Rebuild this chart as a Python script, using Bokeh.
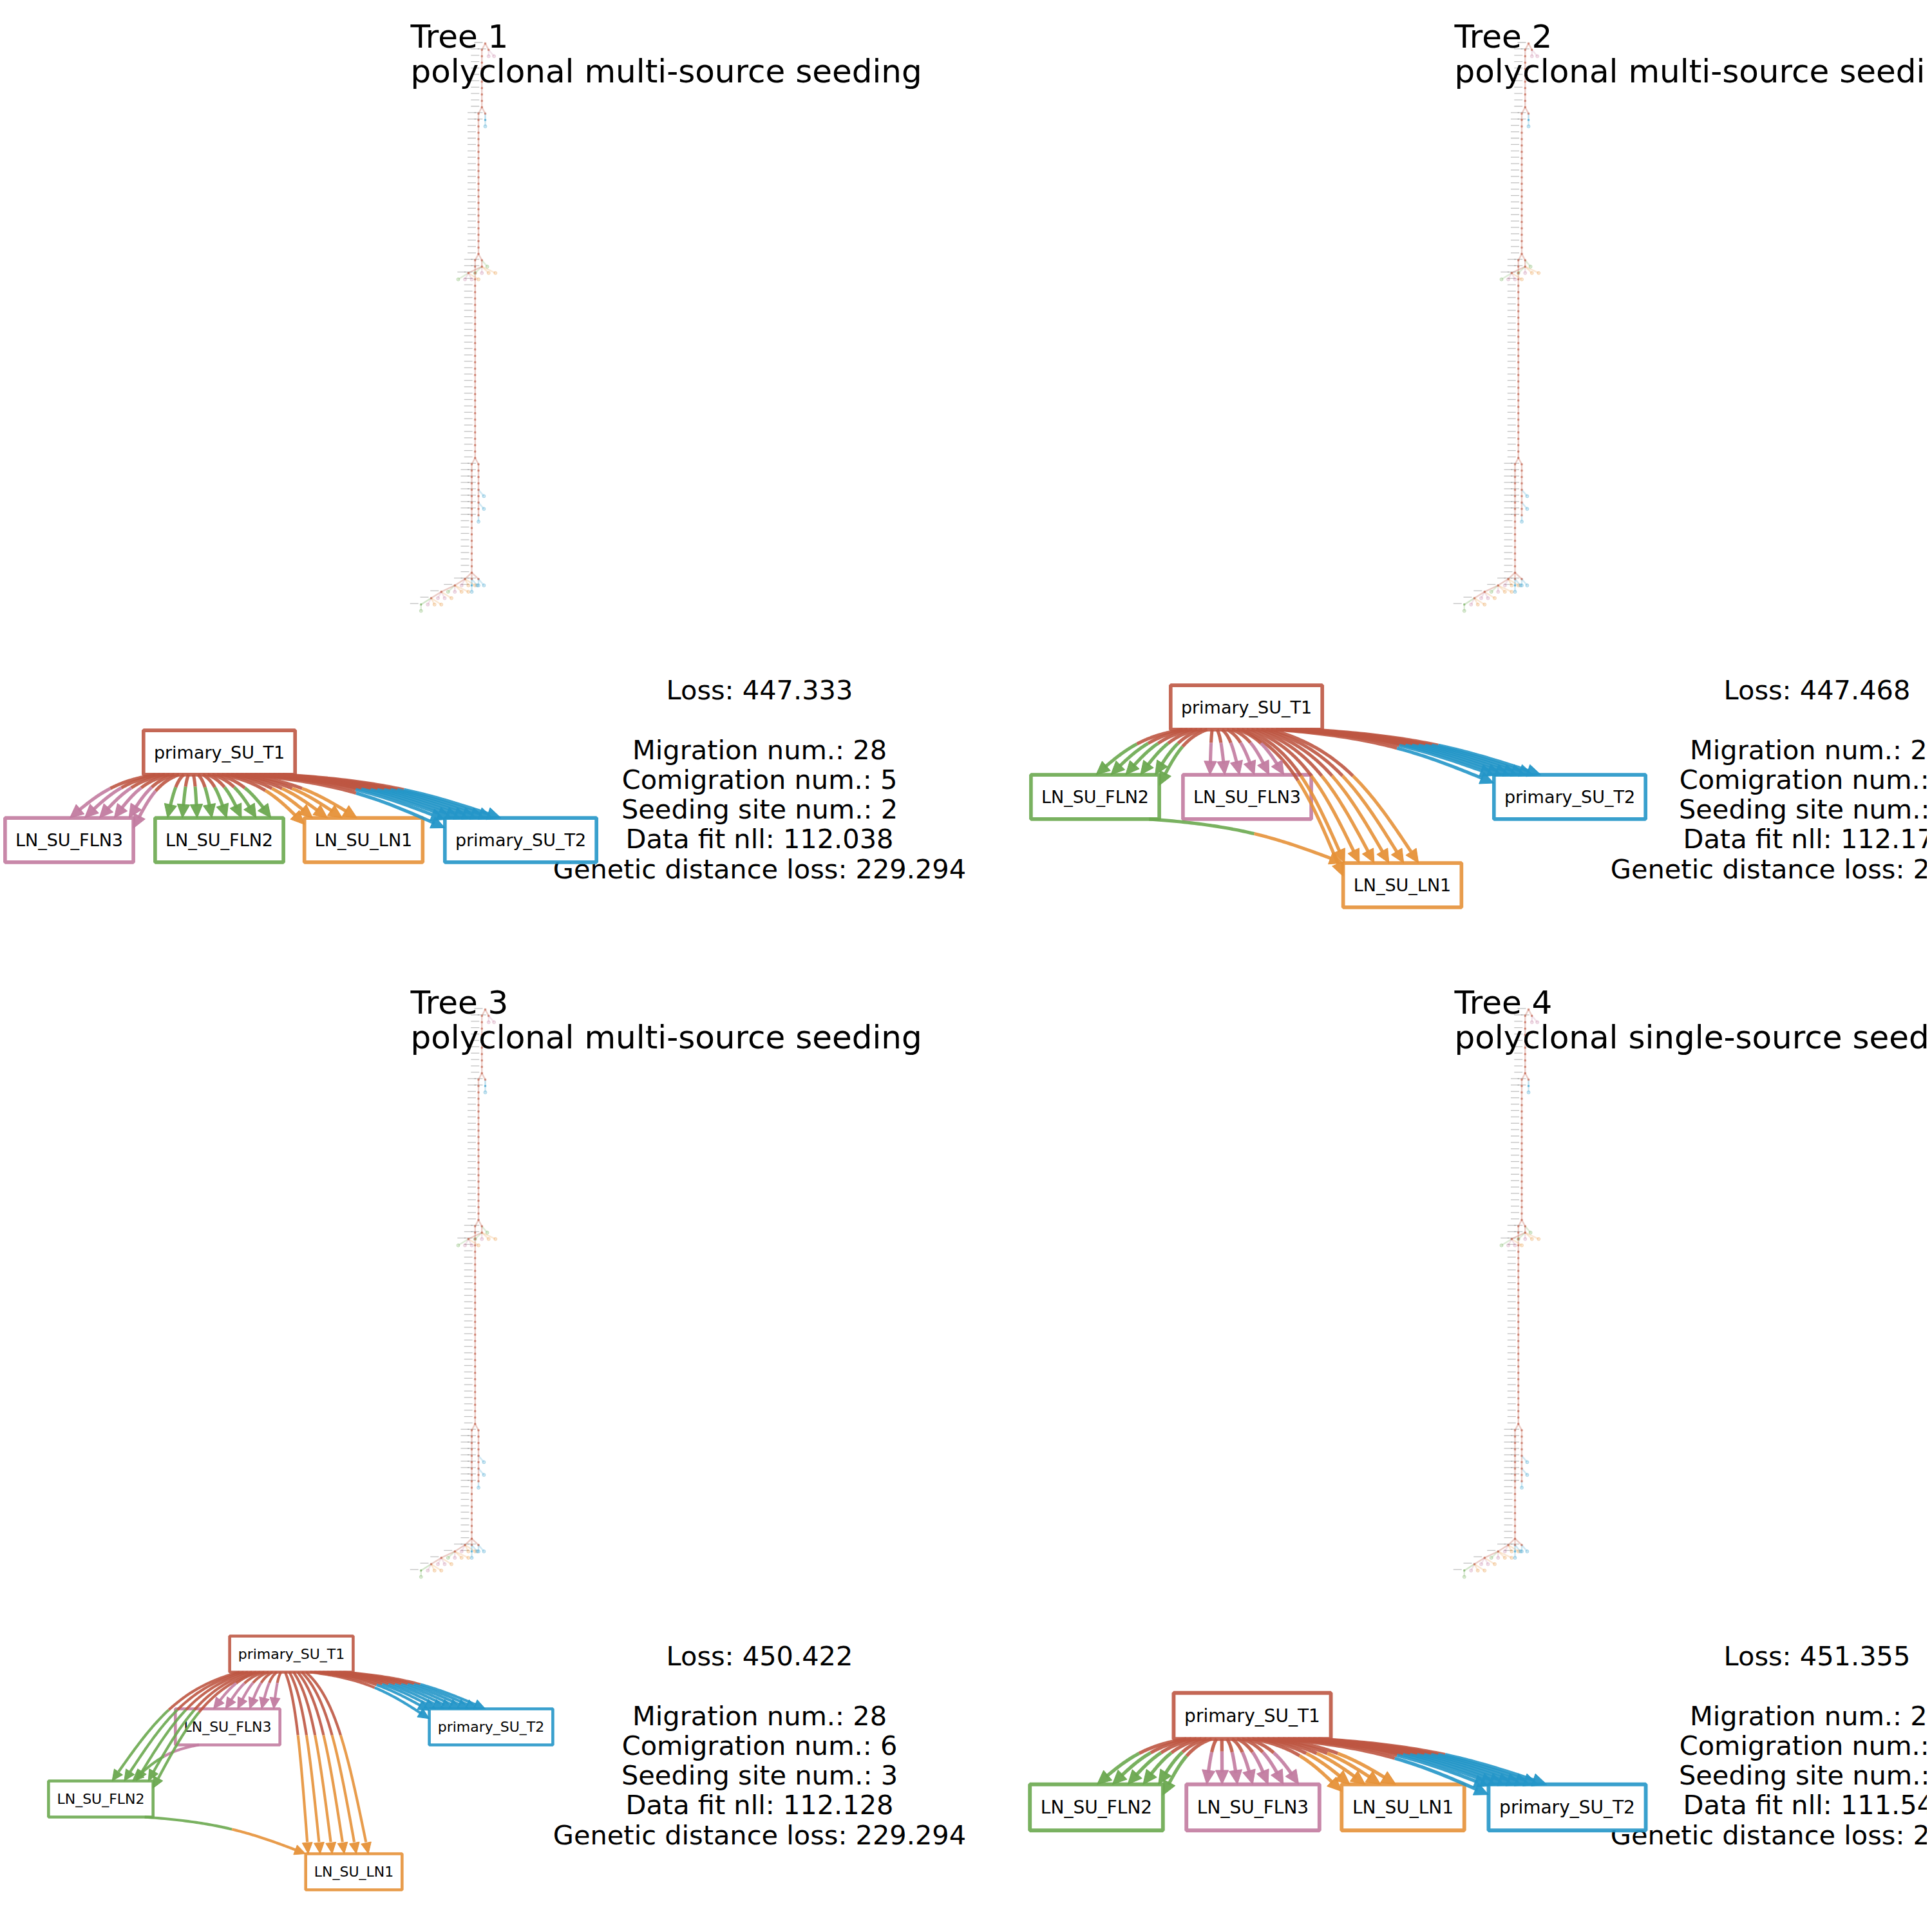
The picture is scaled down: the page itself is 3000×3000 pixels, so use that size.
import numpy as np
from bokeh.core.properties import value
from bokeh.embed import file_html
from bokeh.models import ColumnDataSource, Range1d
from bokeh.plotting import figure
from bokeh.resources import INLINE

# anatomical sites
site_ids = ["T1", "T2", "FLN2", "FLN3", "LN1"]
site_labels = ["primary_SU_T1", "primary_SU_T2", "LN_SU_FLN2", "LN_SU_FLN3", "LN_SU_LN1"]
site_colors = ["#be5742", "#2496c8", "#6aa84f", "#c27ba0", "#e69138"]
COLOR = dict(zip(site_ids, site_colors))
LABEL = dict(zip(site_ids, site_labels))

# one entry per solution
tree_names = ["Tree 1", "Tree 2", "Tree 3", "Tree 4"]
seeding_patterns = ["polyclonal multi-source seeding", "polyclonal multi-source seeding",
                    "polyclonal multi-source seeding", "polyclonal single-source seeding"]
loss = ["447.333", "447.468", "450.422", "451.355"]
migration_num = [28, 28, 28, 27]
comigration_num = [5, 5, 6, 5]
seeding_site_num = [2, 2, 3, 1]
data_fit_nll = ["112.038", "112.175", "112.128", "111.546"]
genetic_distance_loss = ["229.294", "229.294", "229.294", "229.294"]

# migration graphs: node order, graphviz placement, label size, (source, target, count)
graph_nodes = [["T1", "FLN3", "FLN2", "LN1", "T2"],
               ["T1", "FLN2", "FLN3", "T2", "LN1"],
               ["T1", "FLN3", "T2", "FLN2", "LN1"],
               ["T1", "FLN2", "FLN3", "LN1", "T2"]]
graph_x = [[340, 107, 340, 564, 808],
           [1935, 1700, 1936, 2437, 2177],
           [452, 353, 762, 156, 549],
           [1944, 1702, 1945, 2178, 2433]]
graph_y = [[1168, 1304, 1304, 1304, 1304],
           [1098, 1237, 1237, 1237, 1374],
           [2568, 2681, 2681, 2793, 2906],
           [2664, 2806, 2806, 2806, 2806]]
graph_font = [27, 27, 22, 28]
graph_edges = [
    [("T1", "FLN3", 6), ("T1", "FLN2", 8), ("T1", "LN1", 5), ("T1", "T2", 9)],
    [("T1", "FLN2", 6), ("T1", "FLN3", 6), ("T1", "T2", 8), ("T1", "LN1", 7), ("FLN2", "LN1", 1)],
    [("T1", "FLN2", 5), ("FLN3", "FLN2", 1), ("T1", "FLN3", 6), ("T1", "T2", 9),
     ("T1", "LN1", 6), ("FLN2", "LN1", 1)],
    [("T1", "FLN2", 6), ("T1", "FLN3", 7), ("T1", "LN1", 5), ("T1", "T2", 9)],
]

# clone tree (same topology in every solution); '.' = primary clone, letter = extra leaf
LEAF = {"b": "T2", "g": "FLN2", "p": "FLN3", "o": "LN1"}


def trunk(pattern, *tail):
    node = None
    for i, ch in enumerate(reversed(pattern)):
        kids = list(tail) if i == 0 else [node]
        if ch != ".":
            kids.append([LEAF[ch]])
        node = ["T1", *kids]
    return node


def step(nxt, leaves):
    return ["T1", nxt, *[[LEAF[c]] for c in leaves]]


stair = ["FLN2", ["FLN2"]]
for lv in ["poo", "ppo", "gpoo", "poo"]:
    stair = step(stair, lv)
fork_low = trunk("..", stair, ["T1", ["T2", ["T2"]], ["T2"]], ["T1", ["T2"], ["T2"]])
left_arm = trunk("." * 16, fork_low)
right_arm = trunk("....b.b.b")
mid = trunk("." * 30, left_arm, right_arm)
side = ["T1", ["T1", ["T1", ["FLN2"], ["FLN3"], ["FLN3"], ["LN1"]],
               ["FLN2"], ["FLN3"], ["LN1"], ["LN1"]], ["FLN2"]]
upper = trunk("." * 23, trunk("..", mid), side)
top = trunk("." * 10, upper, ["T1", ["T2", ["T2"]]])
clone_tree = ["T1", top, ["T1", ["FLN3"], ["FLN3"]]]

# DejaVu Sans advance widths (em) for the box labels
char_em = {"p": .635, "r": .411, "i": .278, "m": .974, "a": .613, "y": .592, "_": .5,
           "S": .635, "U": .732, "T": .611, "L": .557, "N": .748, "F": .575,
           "1": .636, "2": .636, "3": .636}

FONT = value("DejaVu Sans")
COL_TITLE_X = [637, 2258]
COL_TEXT_X = [1179, 2821]
COL_TREE_X = [753, 2373]
ROW_DY = 1500
UNIT = 10.5
LEVEL = 9.9
BASE_FIX = 0.35  # bokeh draws alphabetic text this many em lower
SIDE = 2992


def layout(node, x, depth, nodes, links):
    kids = node[1:]
    nodes.append((x, depth, node[0], len(kids) == 0))
    n = len(kids)
    for i, kid in enumerate(kids):
        if n == 2 and len(kids[1]) == 1:
            off = 0.0 if i == 0 else UNIT * 0.8
        else:
            off = (i - (n - 1) / 2) * UNIT
        links.append((x, depth, x + off, depth + 1, kid[0], len(kid) == 1))
        layout(kid, x + off, depth + 1, nodes, links)


t_nodes, t_links = [], []
layout(clone_tree, 0.0, 0, t_nodes, t_links)

p = figure(width=SIDE, height=SIDE, x_range=Range1d(0, SIDE), y_range=Range1d(SIDE, 0),
           output_backend="svg", toolbar_location=None, min_border=0,
           x_axis_location=None, y_axis_location=None)
p.grid.visible = False
p.outline_line_color = None

# ---- clone trees
lk = dict(x0=[], y0=[], x1=[], y1=[], c=[], a=[])
inner = dict(x=[], y=[], c=[])
leaf = dict(x=[], y=[], c=[])
dash = dict(x0=[], y0=[], x1=[], y1=[])
for k in range(4):
    ox, oy = COL_TREE_X[k % 2], 67 + ROW_DY * (k // 2)
    for x0, d0, x1, d1, s, is_leaf in t_links:
        lk["x0"].append(ox + x0); lk["y0"].append(oy + d0 * LEVEL)
        lk["x1"].append(ox + x1); lk["y1"].append(oy + d1 * LEVEL)
        lk["c"].append(COLOR[s]); lk["a"].append(0.22 if is_leaf else 0.3)
    for x, d, s, is_leaf in t_nodes:
        tgt = leaf if is_leaf else inner
        tgt["x"].append(ox + x); tgt["y"].append(oy + d * LEVEL); tgt["c"].append(COLOR[s])
        if not is_leaf:
            dash["x0"].append(ox + x - 17); dash["x1"].append(ox + x - 4)
            dash["y0"].append(oy + d * LEVEL - 1.5); dash["y1"].append(oy + d * LEVEL - 1.5)

p.segment("x0", "y0", "x1", "y1", source=ColumnDataSource(lk), line_color="c",
          line_alpha="a", line_width=2.4)
p.segment("x0", "y0", "x1", "y1", source=ColumnDataSource(dash), line_color="#666666",
          line_alpha=0.4, line_width=1.3)
p.scatter("x", "y", source=ColumnDataSource(leaf), marker="circle", size=5,
          fill_color="c", fill_alpha=0.22, line_color="c", line_alpha=0.3)
p.scatter("x", "y", source=ColumnDataSource(inner), marker="square", size=2.4,
          fill_color="c", line_color="c", fill_alpha=0.55, line_alpha=0.4)

# ---- titles and score text
title = dict(x=[], y=[], t=[])
info = dict(x=[], y=[], t=[])
for k in range(4):
    col, row = k % 2, k // 2
    for j, line in enumerate([tree_names[k], seeding_patterns[k]]):
        title["x"].append(COL_TITLE_X[col])
        title["y"].append(74 + 54 * j + ROW_DY * row - BASE_FIX * 50)
        title["t"].append(line)
    lines = [f"Loss: {loss[k]}", "",
             f"Migration num.: {migration_num[k]}",
             f"Comigration num.: {comigration_num[k]}",
             f"Seeding site num.: {seeding_site_num[k]}",
             f"Data fit nll: {data_fit_nll[k]}",
             f"Genetic distance loss: {genetic_distance_loss[k]}"]
    for j, line in enumerate(lines):
        if line:
            info["x"].append(COL_TEXT_X[col])
            info["y"].append(1086 + 46.2 * j + ROW_DY * row - BASE_FIX * 41.5)
            info["t"].append(line)

p.text("x", "y", text="t", source=ColumnDataSource(title), text_font=FONT,
       text_font_size="50px", text_align="left", text_baseline="alphabetic", text_color="black")
p.text("x", "y", text="t", source=ColumnDataSource(info), text_font=FONT,
       text_font_size="41.5px", text_align="center", text_baseline="alphabetic", text_color="black")


# ---- migration graphs
def bez(p0, p1, p2, p3, ts):
    ts = ts[:, None]
    return ((1 - ts) ** 3 * p0 + 3 * (1 - ts) ** 2 * ts * p1
            + 3 * (1 - ts) * ts ** 2 * p2 + ts ** 3 * p3)


boxes = dict(x=[], y=[], w=[], h=[], c=[], lw=[])
blabels = dict(x=[], y=[], t=[], fs=[])
e1 = dict(xs=[], ys=[], c=[], lw=[])
e2 = dict(xs=[], ys=[], c=[], lw=[])
heads = dict(xs=[], ys=[], c=[])

for k in range(4):
    fs = graph_font[k]
    pos = {s: (graph_x[k][j], graph_y[k][j]) for j, s in enumerate(graph_nodes[k])}
    size = {s: (sum(char_em[ch] for ch in LABEL[s]) * fs + 1.19 * fs, 2.55 * fs)
            for s in graph_nodes[k]}
    for s in graph_nodes[k]:
        boxes["x"].append(pos[s][0]); boxes["y"].append(pos[s][1])
        boxes["w"].append(size[s][0]); boxes["h"].append(size[s][1])
        boxes["c"].append(COLOR[s]); boxes["lw"].append(0.21 * fs)
        blabels["x"].append(pos[s][0]); blabels["y"].append(pos[s][1])
        blabels["t"].append(LABEL[s]); blabels["fs"].append(f"{fs}px")

    # arrow ends along the target border
    ends = []
    for src, dst, n in graph_edges[k]:
        sx, sy = pos[src]
        tx, ty = pos[dst]
        tw, th = size[dst]
        dx, dy = tx - sx, ty - sy
        frac = abs(dy) / np.hypot(dx, dy)
        gap = 0.85 * fs * min(1.0, 2 * frac)
        spread = gap * (n - 1)
        cx = tx + 0.25 * (sx - tx)
        lo, hi = tx - tw / 2 + 0.35 * spread, tx + tw / 2 - 0.35 * spread
        cx = min(max(cx, lo), hi) if lo < hi else tx
        left, right, topy = tx - tw / 2, tx + tw / 2, ty - th / 2
        for i in range(n):
            ex = cx + (i - (n - 1) / 2) * gap
            ey = topy
            if ex < left:
                ey, ex = topy + (left - ex), left
            elif ex > right:
                ey, ex = topy + (ex - right), right
            ends.append((src, dst, ex, ey))

    # arrow starts spread along the source bottom
    for src in graph_nodes[k]:
        outs = sorted([e for e in ends if e[0] == src], key=lambda e: e[2])
        if not outs:
            continue
        sx, sy = pos[src]
        sw, sh = size[src]
        m = len(outs)
        if m == 1:
            xs0 = [min(max(sx + 0.3 * (outs[0][2] - sx), sx - 0.42 * sw), sx + 0.42 * sw)]
        else:
            xs0 = np.linspace(sx - 0.42 * sw, sx + 0.42 * sw, m)
        for (s, d, ex, ey), x0 in zip(outs, xs0):
            p0 = np.array([x0, sy + sh / 2])
            p3 = np.array([ex, ey])
            dx, dy = p3 - p0
            p1 = p0 + np.array([0.5 * dx, 0.15 * dy])
            p2 = p3 - np.array([0.3 * dx, 0.5 * dy])
            pts = bez(p0, p1, p2, p3, np.linspace(0, 1, 70))
            L, W = 0.78 * fs, 0.72 * fs
            dist = np.hypot(*(pts - p3).T)
            pts = pts[dist >= 0.8 * L]
            h = len(pts) // 2
            e1["xs"].append(list(pts[:h + 1, 0])); e1["ys"].append(list(pts[:h + 1, 1]))
            e1["c"].append(COLOR[s]); e1["lw"].append(0.19 * fs)
            e2["xs"].append(list(pts[h:, 0])); e2["ys"].append(list(pts[h:, 1]))
            e2["c"].append(COLOR[d]); e2["lw"].append(0.19 * fs)
            u = (p3 - p2) / np.hypot(*(p3 - p2))
            nrm = np.array([-u[1], u[0]])
            base = p3 - L * u
            tri = [p3, base + nrm * W / 2, base - nrm * W / 2]
            heads["xs"].append([q[0] for q in tri]); heads["ys"].append([q[1] for q in tri])
            heads["c"].append(COLOR[d])

p.rect("x", "y", width="w", height="h", source=ColumnDataSource(boxes), fill_color="white",
       line_color="c", line_width="lw", line_alpha=0.9)
p.text("x", "y", text="t", source=ColumnDataSource(blabels), text_font=FONT,
       text_font_size="fs", text_align="center", text_baseline="middle", text_color="black")
p.multi_line("xs", "ys", source=ColumnDataSource(e1), line_color="c", line_width="lw",
             line_alpha=0.9)
p.multi_line("xs", "ys", source=ColumnDataSource(e2), line_color="c", line_width="lw",
             line_alpha=0.9)
p.patches("xs", "ys", source=ColumnDataSource(heads), fill_color="c", line_color="c",
          fill_alpha=0.95, line_alpha=0.95)

open("out.html", "w").write(file_html(p, INLINE))
